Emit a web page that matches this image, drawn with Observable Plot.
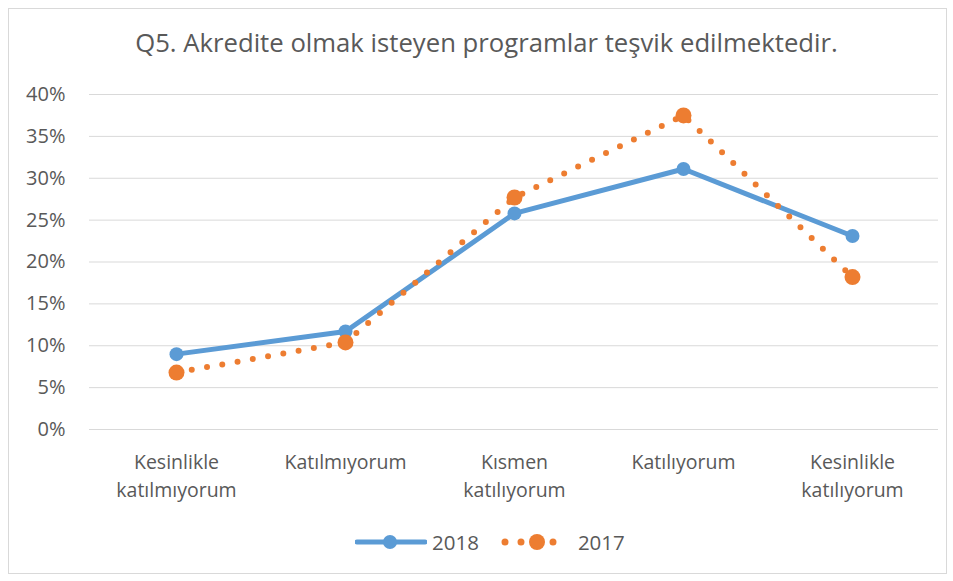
<!DOCTYPE html>
<html><head><meta charset="utf-8">
<script src="https://cdn.jsdelivr.net/npm/d3@7"></script>
<script src="https://cdn.jsdelivr.net/npm/@observablehq/plot@0.6"></script>
<style>
body{margin:0;background:#fff;font-family:"Open Sans",sans-serif;}
#wrap{position:relative;width:953px;height:581px;overflow:hidden;}
#frame{position:absolute;left:8px;top:8px;width:939px;height:566px;border:1px solid #d9d9d9;box-sizing:border-box;}
#title{position:absolute;left:0;width:973px;top:28px;line-height:30px;text-align:center;font-size:25.7px;color:#595959;white-space:nowrap;}
#chart{position:absolute;left:0;top:0;}
#legend{position:absolute;top:531px;left:355px;display:flex;align-items:center;font-size:20.5px;line-height:22px;color:#595959;}
#legend .item{display:flex;align-items:center;}
</style></head>
<body><div id="wrap"><div id="frame"></div><div id="chart"></div><div id="title">Q5. Akredite olmak isteyen programlar teşvik edilmektedir.</div><div id="legend"></div></div>
<script>
const categories = ["Kesinlikle katılmıyorum","Katılmıyorum","Kısmen katılıyorum","Katılıyorum","Kesinlikle katılıyorum"];
const categoryLabels = ["Kesinlikle\nkatılmıyorum","Katılmıyorum","Kısmen\nkatılıyorum","Katılıyorum","Kesinlikle\nkatılıyorum"];
const values2018 = [0.090, 0.117, 0.258, 0.311, 0.231];
const values2017 = [0.068, 0.104, 0.277, 0.375, 0.182];
const yTicks = [0,0.05,0.10,0.15,0.20,0.25,0.30,0.35,0.40];
const seriesNames = ["2018","2017"];
const colors = {"2018":"#5B9BD5","2017":"#ED7D31"};

const d18 = categories.map((c,i)=>({cat:c, v:values2018[i]}));
const d17 = categories.map((c,i)=>({cat:c, v:values2017[i]}));
const lbls = categories.map((c,i)=>({cat:c, label:categoryLabels[i]}));

const plot = Plot.plot({
  width:953, height:581,
  marginTop:94, marginBottom:152, marginLeft:89, marginRight:15,
  style:{fontFamily:"'Open Sans', sans-serif", background:"transparent"},
  x:{type:"point", domain:categories, padding:0.5, axis:null},
  y:{domain:[0,0.40], ticks:yTicks, axis:null},
  marks:[
    Plot.ruleY(yTicks,{stroke:"#d9d9d9", strokeWidth:1}),
    Plot.axisY({ticks:yTicks, tickSize:0, tickPadding:24, tickFormat:d=>Math.round(d*100)+"%", fontSize:20, color:"#595959", label:null}),
    Plot.text(lbls,{x:"cat", text:"label", frameAnchor:"bottom", lineAnchor:"top", dy:19, lineHeight:1.45, fontSize:19.5, fill:"#595959"}),
    Plot.line(d18,{x:"cat", y:"v", stroke:colors["2018"], strokeWidth:5}),
    Plot.dot(d18,{x:"cat", y:"v", r:7, fill:colors["2018"]}),
    Plot.line(d17,{x:"cat", y:"v", stroke:colors["2017"], strokeWidth:6, strokeDasharray:"0 15.5", strokeLinecap:"round"}),
    Plot.dot(d17,{x:"cat", y:"v", r:8, fill:colors["2017"]})
  ]
});
document.getElementById("chart").appendChild(plot);

// legend
const leg = document.getElementById("legend");
seriesNames.forEach((name,k)=>{
  const item = document.createElement("div"); item.className="item";
  if(k>0) item.style.marginLeft="22px";
  const ns="http://www.w3.org/2000/svg";
  const s=document.createElementNS(ns,"svg"); s.setAttribute("width",72); s.setAttribute("height",22);
  const ln=document.createElementNS(ns,"line");
  ln.setAttribute("y1",11); ln.setAttribute("y2",11);
  ln.setAttribute("stroke",colors[name]); ln.setAttribute("stroke-linecap","round");
  if(name==="2018"){ln.setAttribute("x1",2);ln.setAttribute("x2",70);ln.setAttribute("stroke-width",5);}
  else {ln.setAttribute("x1",4);ln.setAttribute("x2",68);ln.setAttribute("stroke-width",7);ln.setAttribute("stroke-dasharray","0 16");}
  s.appendChild(ln);
  const c=document.createElementNS(ns,"circle"); c.setAttribute("cx",name==="2018"?35:36); c.setAttribute("cy",11); c.setAttribute("r",name==="2018"?7:8); c.setAttribute("fill",colors[name]);
  s.appendChild(c);
  item.appendChild(s);
  const t=document.createElement("span"); t.textContent=name; t.style.marginLeft="5px"; item.appendChild(t);
  leg.appendChild(item);
});
</script></body></html>
